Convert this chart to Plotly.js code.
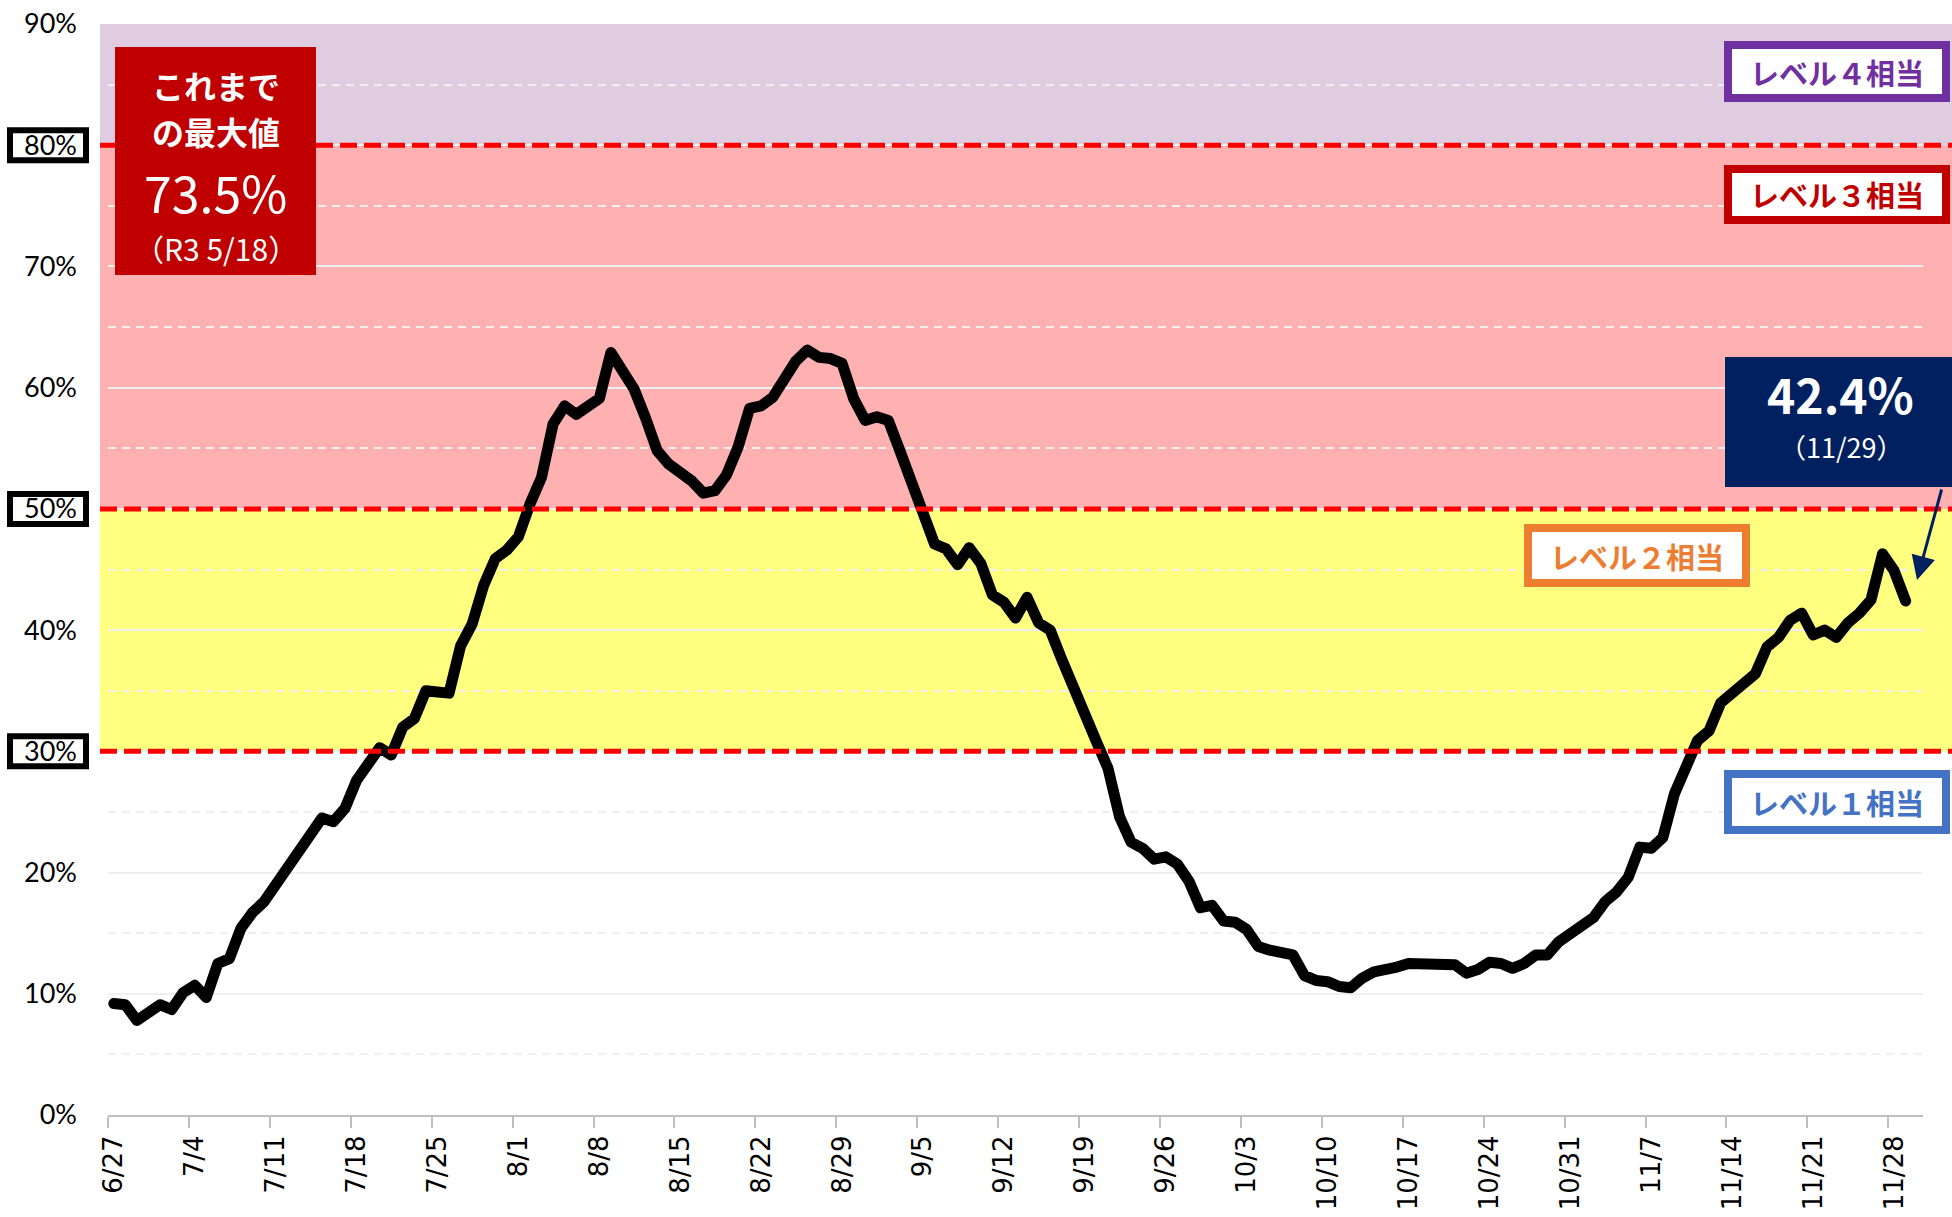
<!DOCTYPE html>
<html><head><meta charset="utf-8">
<script src="https://cdn.plot.ly/plotly-3.0.1.min.js"></script>
<style>
html,body{margin:0;padding:0;background:#fff;}
#chart{width:1952px;height:1217px;}
.scatterlayer .js-line{stroke-linejoin:round;stroke-linecap:round;}
</style></head><body><div id="chart"></div>
<script>
// ---- data ----
const startDate = '2022-06-27';
const rate = [
 9.2, 9.1, 7.8, 8.5, 9.1, 8.7, 10.1, 10.7, 9.7, 12.5,
 12.9, 15.4, 16.7, 17.6, 19.0, 20.5, 22.0, 23.5, 24.5, 24.2,
 25.3, 27.6, 28.9, 30.3, 29.7, 32.0, 32.7, 35.0, 34.9, 34.8,
 38.7, 40.5, 43.7, 45.9, 46.6, 47.7, 50.4, 52.6, 57.0, 58.5,
 57.8, 58.5, 59.1, 62.9, 61.5, 59.9, 57.5, 54.8, 53.7, 53.0,
 52.3, 51.3, 51.5, 52.8, 55.1, 58.3, 58.5, 59.2, 60.8, 62.2,
 63.1, 62.5, 62.4, 62.0, 59.1, 57.3, 57.6, 57.3, 54.8, 52.3,
 49.7, 47.1, 46.7, 45.4, 46.8, 45.5, 42.9, 42.3, 41.0, 42.7,
 40.6, 40.0, 37.6, 35.3, 32.6, 30.8, 28.6, 24.6, 22.5, 22.0,
 21.1, 21.3, 20.7, 19.3, 17.1, 17.3, 16.0, 15.9, 15.3, 13.9,
 13.6, 13.4, 13.2, 11.5, 11.1, 11.0, 10.6, 10.5, 11.3, 11.8,
 11.9, 12.2, 12.5, 12.5, 12.6, 12.5, 12.4, 11.7, 12.0, 12.6,
 12.5, 12.1, 12.5, 13.2, 13.2, 14.3, 15.0, 15.5, 16.3, 17.6,
 18.4, 19.6, 22.1, 22.0, 22.9, 26.5, 29.0, 30.9, 31.7, 34.0,
 34.8, 35.5, 36.4, 38.6, 39.4, 40.8, 41.4, 39.6, 40.0, 39.4,
 40.6, 41.4, 42.5, 46.3, 44.9, 42.4
];
const tickDates = ['2022-06-27','2022-07-04','2022-07-11','2022-07-18','2022-07-25','2022-08-01',
 '2022-08-08','2022-08-15','2022-08-22','2022-08-29','2022-09-05','2022-09-12','2022-09-19',
 '2022-09-26','2022-10-03','2022-10-10','2022-10-17','2022-10-24','2022-10-31','2022-11-07',
 '2022-11-14','2022-11-21','2022-11-28'];
const tickLabels = ['6/27','7/4','7/11','7/18','7/25','8/1','8/8','8/15','8/22','8/29','9/5',
 '9/12','9/19','9/26','10/3','10/10','10/17','10/24','10/31','11/7','11/14','11/21','11/28'];
const yTickVals = [0,10,20,30,40,50,60,70,80,90];
const yTickLabels = ['0%','10%','20%','30%','40%','50%','60%','70%','80%','90%'];
const thresholds = [30, 50, 80];
const bandLow = [30, 50, 80];
const bandHigh = [50, 80, 90];
const levelNames = ['レベル１相当','レベル２相当','レベル３相当','レベル４相当'];
const recordLines = ['これまで','の最大値','73.5%','（R3 5/18）'];

// ---- helpers ----
function addDays(iso, n){ const d=new Date(iso+'T00:00:00Z'); d.setUTCDate(d.getUTCDate()+n); return d.toISOString().slice(0,10); }
function halfBefore(iso){ const t=Date.parse(iso+'T00:00:00Z')-12*3600e3; return new Date(t).toISOString().slice(0,16).replace('T',' '); }
const dates = rate.map((_,i)=>addDays(startDate,i));
const xStart = halfBefore(startDate);
const xEnd = halfBefore(addDays(startDate, rate.length+1));

const W=1952, H=1217, ML=108, MR=29, MT=24, MB=102;
const PW=W-ML-MR, PH=H-MT-MB;
const fx = px => (px-ML)/PW;
const fy = py => (H-MB-py)/PH;

const bandColors = ['#FFFF80','#FFB0B0','#DFCCE1'];
const levelColors = ['#4472C4','#ED7D31','#C00000','#7030A0'];

const shapes = [];
bandLow.forEach((lo,k)=>{
  shapes.push({type:'rect', layer:'below', xref:'paper', yref:'y', x0:fx(100), x1:fx(1952), y0:lo, y1:bandHigh[k],
    fillcolor:bandColors[k], line:{width:0}});
});
thresholds.forEach(t=>{
  shapes.push({type:'rect', layer:'below', xref:'paper', yref:'y', xsizemode:'pixel', ysizemode:'pixel',
    xanchor:0, yanchor:t, x0:7-ML+3, x1:89-ML-3, y0:-15, y1:15, fillcolor:'#FFFFFF', line:{color:'#000000', width:6}});
});
thresholds.forEach(t=>{
  shapes.push({type:'line', layer:'above', xref:'paper', yref:'y', x0:fx(100), x1:fx(1952), y0:t, y1:t,
    line:{color:'#FF0000', width:5, dash:'17px,7px'}});
});
shapes.push({type:'rect', layer:'above', xref:'paper', yref:'paper', x0:fx(115), x1:fx(316), y0:fy(275), y1:fy(47),
  fillcolor:'#C00000', line:{width:0}});
shapes.push({type:'rect', layer:'above', xref:'paper', yref:'paper', x0:fx(1725), x1:fx(1952), y0:fy(487), y1:fy(357),
  fillcolor:'#002060', line:{width:0}});
const levelBoxes = [[1724,1950,770,834],[1524,1750,524,587],[1724,1950,165,224],[1724,1950,41,102]];
levelBoxes.forEach((b,k)=>{
  shapes.push({type:'rect', layer:'above', xref:'paper', yref:'paper', x0:fx(b[0]+4), x1:fx(b[1]-4), y0:fy(b[3]-4), y1:fy(b[2]+4),
    fillcolor:'#FFFFFF', line:{color:levelColors[k], width:8}});
});

const annotations = [];
levelBoxes.forEach((b,k)=>{
  annotations.push({xref:'paper', yref:'paper', x:fx((b[0]+b[1])/2), y:fy((b[2]+b[3])/2), xanchor:'center', yanchor:'middle',
    showarrow:false, text:'<b>'+levelNames[k]+'</b>', font:{family:'Noto Sans CJK JP', size:29, color:levelColors[k]}});
});
const recY = [85,131,191,248];
const recFonts = [
  {family:'Noto Sans CJK JP', size:32, color:'#FFFFFF'},
  {family:'Noto Sans CJK JP', size:32, color:'#FFFFFF'},
  {family:'Liberation Sans Narrow, Noto Sans CJK JP', size:50, color:'#FFFFFF'},
  {family:'Liberation Sans Narrow, Noto Sans CJK JP', size:30, color:'#FFFFFF'}];
recordLines.forEach((t,k)=>{
  annotations.push({xref:'paper', yref:'paper', x:fx(215.5), y:fy(recY[k]), xanchor:'center', yanchor:'middle',
    showarrow:false, text: k<2 ? '<b>'+t+'</b>' : t, font:recFonts[k]});
});
const lastVal = rate[rate.length-1];
const lastDate = dates[dates.length-1];
const lastLabel = (+lastDate.slice(5,7))+'/'+(+lastDate.slice(8,10));
annotations.push({xref:'paper', yref:'paper', x:fx(1840), y:fy(393), xanchor:'center', yanchor:'middle', showarrow:false,
  text:'<b>'+lastVal.toFixed(1)+'%</b>', font:{family:'Liberation Sans Narrow, Noto Sans CJK JP', size:48, color:'#FFFFFF'}});
annotations.push({xref:'paper', yref:'paper', x:fx(1841), y:fy(447), xanchor:'center', yanchor:'middle', showarrow:false,
  text:'（'+lastLabel+'）', font:{family:'Liberation Sans Narrow, Noto Sans CJK JP', size:27, color:'#FFFFFF'}});
annotations.push({xref:'paper', yref:'paper', x:fx(1917), y:fy(580), text:'', showarrow:true,
  ax:25, ay:-92, arrowhead:2, arrowsize:1.6, arrowwidth:3, arrowcolor:'#002060'});

const trace = {x:dates, y:rate, type:'scatter', mode:'lines', line:{color:'#000000', width:11}, hoverinfo:'skip'};

const layout = {
  width:W, height:H, margin:{l:ML, r:MR, t:MT, b:MB},
  paper_bgcolor:'#FFFFFF', plot_bgcolor:'rgba(0,0,0,0)', showlegend:false,
  xaxis:{type:'date', range:[xStart, xEnd], tickmode:'array', tickvals:tickDates, ticktext:tickLabels,
    tickangle:-90, ticks:'', showgrid:false, zeroline:false, showline:true, linecolor:'#BFBFBF', linewidth:2,
    ticklabelstandoff:8,
    tickfont:{family:'DejaVu Sans', size:26, color:'#000000'},
    minor:{tickmode:'array', tickvals:tickDates.map(halfBefore), ticks:'outside', ticklen:11, tickwidth:2, tickcolor:'#BFBFBF', showgrid:false}},
  yaxis:{range:[0,90], tickmode:'array', tickvals:yTickVals, ticktext:yTickLabels, ticks:'', showline:false, zeroline:false,
    showgrid:true, gridcolor:'#EFEFEF', gridwidth:2, ticklabelstandoff:30,
    tickfont:{family:'Lato, Liberation Sans', size:27, color:'#000000'},
    minor:{dtick:5, tick0:0, showgrid:true, gridcolor:'#EFEFEF', gridwidth:2, griddash:'8px,6px'}},
  shapes:shapes, annotations:annotations
};
Plotly.newPlot('chart', [trace], layout, {staticPlot:true, displayModeBar:false});
</script></body></html>
